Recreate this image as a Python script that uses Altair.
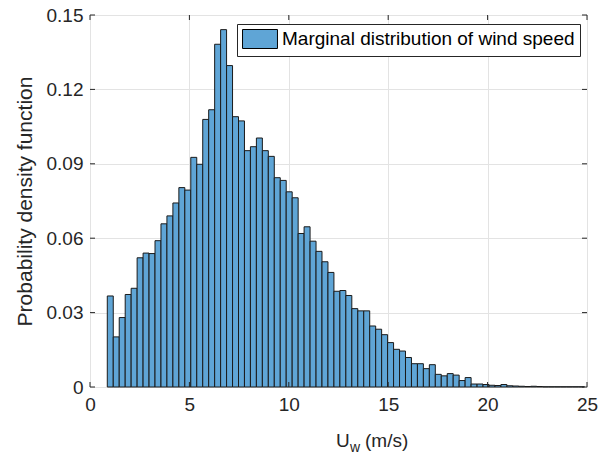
import altair as alt
import pandas as pd

# ---- data ----
BIN_START = 0.87
BIN_WIDTH = 0.3
density = [
    0.0367, 0.0202, 0.0280, 0.0373, 0.0398, 0.0521, 0.0540, 0.0538, 0.0590, 0.0658,
    0.0690, 0.0742, 0.0804, 0.0794, 0.0926, 0.0898, 0.1079, 0.1118, 0.1382, 0.1441,
    0.1296, 0.1090, 0.1073, 0.0953, 0.0969, 0.1004, 0.0953, 0.0930, 0.0844, 0.0833,
    0.0787, 0.0763, 0.0619, 0.0646, 0.0588, 0.0547, 0.0505, 0.0462, 0.0386, 0.0389,
    0.0369, 0.0316, 0.0307, 0.0307, 0.0246, 0.0233, 0.0211, 0.0179, 0.0152, 0.0145,
    0.0119, 0.0094, 0.0094, 0.0074, 0.0090, 0.0051, 0.0045, 0.0054, 0.0048, 0.0026,
    0.0038, 0.0012, 0.0012, 0.0010, 0.0007, 0.0006, 0.0010, 0.0005, 0.0004, 0.0003,
    0.0002, 0.0003, 0.0002, 0.0001, 0.0001, 0.0001, 0.0001, 0.0001, 0.0001, 0.0001,
]
x_ticks = [0, 5, 10, 15, 20, 25]
y_ticks = [0, 0.03, 0.06, 0.09, 0.12, 0.15]
series_name = "Marginal distribution of wind speed"

W, H = 497, 372
FONT = "Liberation Sans"
TXT = "#262626"

df = pd.DataFrame({
    "lo": [BIN_START + i * BIN_WIDTH for i in range(len(density))],
    "hi": [BIN_START + (i + 1) * BIN_WIDTH for i in range(len(density))],
    "pdf": density,
    "base": [0.0] * len(density),
    "series": [series_name] * len(density),
})
xt = pd.DataFrame({"t": x_ticks})
yt = pd.DataFrame({"t": y_ticks})

xscale = alt.Scale(domain=[0, 25], nice=False, zero=False)
yscale = alt.Scale(domain=[0, 0.15], nice=False)

x_axis = alt.Axis(values=x_ticks, title=None, labelFontSize=19, labelPadding=8,
                  labelFont=FONT, labelColor=TXT, ticks=False, domain=False,
                  labelFlush=False, grid=True, gridColor="#e3e3e3")
y_axis = alt.Axis(values=y_ticks, title="Probability density function",
                  labelExpr="datum.value == 0 ? '0' : format(datum.value, '.2f')",
                  labelFontSize=19, labelPadding=7, labelFont=FONT, labelColor=TXT,
                  labelFlush=False,
                  titleFontSize=21, titleFont=FONT, titleFontWeight="normal",
                  titleColor=TXT, titlePadding=11, ticks=False, domain=False,
                  grid=True, gridColor="#e3e3e3")

bars = alt.Chart(df).mark_rect(stroke="#1a1a1a", strokeWidth=1).encode(
    x=alt.X("lo:Q", scale=xscale, axis=x_axis),
    x2="hi:Q",
    y=alt.Y("pdf:Q", scale=yscale, axis=y_axis),
    y2="base:Q",
    color=alt.Color("series:N", scale=alt.Scale(range=["#5FA5D6"]),
                    legend=alt.Legend(title=None, orient="none", legendX=147, legendY=9,
                                      symbolType="M-1.84,-1H1.84V1H-1.84Z", symbolSize=361,
                                      symbolOffset=8, symbolStrokeColor="black",
                                      symbolStrokeWidth=1, symbolOpacity=1,
                                      labelFontSize=19, labelFont=FONT, labelColor="black",
                                      labelLimit=500, labelOffset=12, padding=5,
                                      strokeColor="#262626", fillColor="white")),
)

tick_col = TXT
xb = alt.Chart(xt).mark_rule(color=tick_col).encode(
    x=alt.X("t:Q", scale=xscale, axis=x_axis), y=alt.value(H), y2=alt.value(H - 5))
xtp = alt.Chart(xt).mark_rule(color=tick_col).encode(
    x=alt.X("t:Q", scale=xscale, axis=x_axis), y=alt.value(0), y2=alt.value(5))
yl = alt.Chart(yt).mark_rule(color=tick_col).encode(
    y=alt.Y("t:Q", scale=yscale, axis=y_axis), x=alt.value(0), x2=alt.value(5))
yr = alt.Chart(yt).mark_rule(color=tick_col).encode(
    y=alt.Y("t:Q", scale=yscale, axis=y_axis), x=alt.value(W), x2=alt.value(W - 5))

# x-axis title with subscript: U_w (m/s)
t_u = alt.Chart(pd.DataFrame({"s": ["U"]})).mark_text(
    font=FONT, fontSize=19, color=TXT, align="left", baseline="alphabetic").encode(
    text="s:N", x=alt.value(246), y=alt.value(432))
t_w = alt.Chart(pd.DataFrame({"s": ["w"]})).mark_text(
    font=FONT, fontSize=14, color=TXT, align="left", baseline="alphabetic").encode(
    text="s:N", x=alt.value(260), y=alt.value(437))
t_ms = alt.Chart(pd.DataFrame({"s": ["(m/s)"]})).mark_text(
    font=FONT, fontSize=19, color=TXT, align="left", baseline="alphabetic").encode(
    text="s:N", x=alt.value(275), y=alt.value(432))

chart = alt.layer(bars, xb, xtp, yl, yr, t_u, t_w, t_ms).properties(
    width=W, height=H,
    autosize=alt.AutoSizeParams(type="none"),
    padding={"left": 90, "top": 15, "right": 13, "bottom": 73},
).configure_view(stroke="#262626", strokeWidth=1).configure(background="white")

chart.save("out.html", embed_options={"renderer": "svg", "actions": False})
